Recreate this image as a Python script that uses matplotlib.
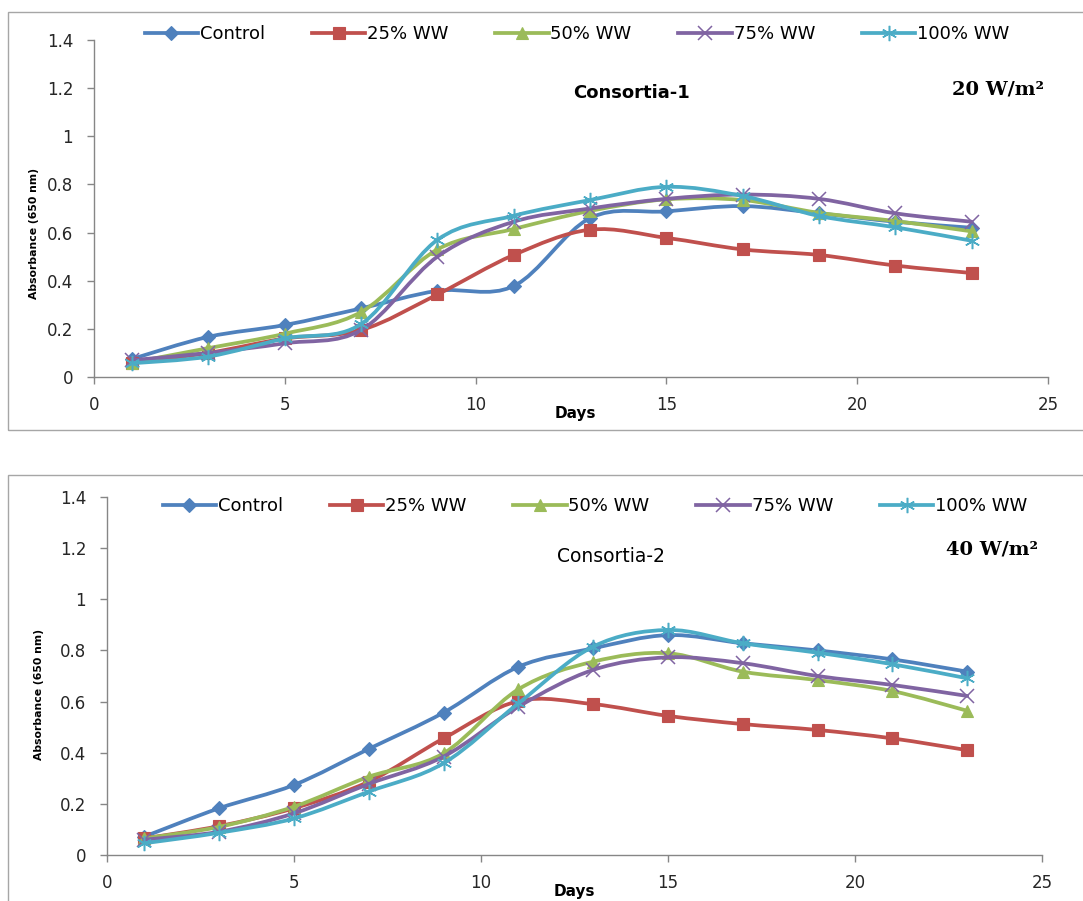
import matplotlib
matplotlib.use("Agg")
import matplotlib.pyplot as plt
import numpy as np
from matplotlib.path import Path
from matplotlib.patches import PathPatch, Rectangle
from matplotlib.lines import Line2D

days = [1, 3, 5, 7, 9, 11, 13, 15, 17, 19, 21, 23]
series_names = ["Control", "25% WW", "50% WW", "75% WW", "100% WW"]

# Consortia-1, 20 W/m2
c1_control = [0.075, 0.167, 0.216, 0.285, 0.358, 0.378, 0.660, 0.688, 0.710, 0.680, 0.645, 0.620]
c1_ww25 = [0.060, 0.100, 0.160, 0.195, 0.343, 0.507, 0.612, 0.578, 0.530, 0.507, 0.463, 0.432]
c1_ww50 = [0.060, 0.120, 0.180, 0.270, 0.530, 0.615, 0.690, 0.738, 0.735, 0.682, 0.648, 0.605]
c1_ww75 = [0.070, 0.100, 0.140, 0.195, 0.500, 0.645, 0.700, 0.740, 0.758, 0.740, 0.680, 0.645]
c1_ww100 = [0.057, 0.085, 0.160, 0.220, 0.570, 0.670, 0.735, 0.790, 0.752, 0.669, 0.622, 0.566]

# Consortia-2, 40 W/m2
c2_control = [0.072, 0.183, 0.274, 0.415, 0.557, 0.736, 0.808, 0.860, 0.828, 0.800, 0.765, 0.717]
c2_ww25 = [0.065, 0.113, 0.183, 0.287, 0.456, 0.602, 0.590, 0.544, 0.512, 0.489, 0.456, 0.410]
c2_ww50 = [0.065, 0.110, 0.189, 0.306, 0.398, 0.648, 0.756, 0.789, 0.717, 0.684, 0.641, 0.564]
c2_ww75 = [0.060, 0.091, 0.163, 0.278, 0.385, 0.580, 0.724, 0.773, 0.750, 0.700, 0.665, 0.622]
c2_ww100 = [0.046, 0.087, 0.143, 0.248, 0.359, 0.593, 0.815, 0.880, 0.828, 0.791, 0.746, 0.691]

colors = ["#4F81BD", "#C0504D", "#9BBB59", "#8064A2", "#4BACC6"]
markers = ["D", "s", "^", "x", (6, 2, 0)]
msizes = [7, 8, 9, 10, 11]

FONT = "DejaVu Sans"


def is_thin(m):
    return m == "x" or isinstance(m, tuple)


def smooth_path(x, y, tension=1.0 / 6.0):
    """Cubic Bezier path through the points (Excel style smoothed line)."""
    x = np.asarray(x, float)
    y = np.asarray(y, float)
    n = len(x)
    verts = [(x[0], y[0])]
    codes = [Path.MOVETO]
    for i in range(n - 1):
        x0, y0 = (x[i - 1], y[i - 1]) if i > 0 else (x[i], y[i])
        x3, y3 = (x[i + 2], y[i + 2]) if i + 2 < n else (x[i + 1], y[i + 1])
        c1 = (x[i] + (x[i + 1] - x0) * tension, y[i] + (y[i + 1] - y0) * tension)
        c2 = (x[i + 1] - (x3 - x[i]) * tension, y[i + 1] - (y3 - y[i]) * tension)
        verts += [c1, c2, (x[i + 1], y[i + 1])]
        codes += [Path.CURVE4] * 3
    return Path(verts, codes)


def draw_panel(ax, data):
    for k, vals in enumerate(data):
        patch = PathPatch(smooth_path(days, vals), facecolor="none",
                          edgecolor=colors[k], lw=2.7, zorder=3 + k,
                          capstyle="round", joinstyle="round")
        ax.add_patch(patch)
        ax.plot(days, vals, linestyle="none", marker=markers[k],
                markersize=msizes[k], color=colors[k],
                markeredgewidth=1.1 if is_thin(markers[k]) else 0.8,
                markeredgecolor=colors[k], zorder=3 + k)
    ax.set_xlim(0, 25)
    ax.set_ylim(0, 1.4)
    ax.set_xticks([0, 5, 10, 15, 20, 25])
    ax.set_yticks(np.arange(0, 1.41, 0.2))
    ax.set_yticklabels(["0", "0.2", "0.4", "0.6", "0.8", "1", "1.2", "1.4"])
    for s in ("top", "right"):
        ax.spines[s].set_visible(False)
    for s in ("left", "bottom"):
        ax.spines[s].set_color("#868686")
        ax.spines[s].set_linewidth(1.0)
    ax.tick_params(axis="both", direction="out", length=5, width=1,
                   color="#868686", labelsize=12, labelcolor="#262626")
    ax.tick_params(axis="x", pad=9)
    ax.tick_params(axis="y", pad=10)
    for lab in ax.get_xticklabels() + ax.get_yticklabels():
        lab.set_family(FONT)
    ax.set_xlabel("Days", fontsize=11, fontweight="bold", family=FONT)
    ax.set_ylabel("Absorbance (650 nm)", fontsize=7.8, family=FONT,
                  fontweight="bold")


def legend_handles():
    hs = []
    for k in range(5):
        hs.append(Line2D([0], [0], color=colors[k], lw=2.7, marker=markers[k],
                         markersize=msizes[k],
                         markeredgewidth=1.1 if is_thin(markers[k]) else 0.8,
                         markeredgecolor=colors[k]))
    return hs


fig = plt.figure(figsize=(10.83, 9.01), dpi=100)
W, H = 1083.0, 901.0

# chart area borders
fig.add_artist(Rectangle((8 / W, 1 - 430 / H), 1.2, (430 - 12) / H,
                         transform=fig.transFigure, fill=False,
                         edgecolor="#A6A6A6", lw=1.0))
fig.add_artist(Rectangle((8 / W, -0.1), 1.2, 0.1 + (901 - 475) / H,
                         transform=fig.transFigure, fill=False,
                         edgecolor="#A6A6A6", lw=1.0))

ax1 = fig.add_axes([94 / W, 1 - 377 / H, (1048 - 94) / W, (377 - 40) / H])
ax1.patch.set_alpha(0)
draw_panel(ax1, [c1_control, c1_ww25, c1_ww50, c1_ww75, c1_ww100])
ax1.xaxis.set_label_coords(0.505, -0.085)
ax1.yaxis.set_label_coords(-0.058, 0.427)

ax2 = fig.add_axes([107 / W, 1 - 855 / H, (1042 - 107) / W, (855 - 497) / H])
ax2.patch.set_alpha(0)
draw_panel(ax2, [c2_control, c2_ww25, c2_ww50, c2_ww75, c2_ww100])
ax2.xaxis.set_label_coords(0.5, -0.08)
ax2.yaxis.set_label_coords(-0.067, 0.447)

legend_kw = dict(ncol=5, frameon=False, handlelength=2.95, handletextpad=0.1,
                 columnspacing=2.6, prop={"family": FONT, "size": 13},
                 loc="center")
fig.legend(legend_handles(), series_names,
           bbox_to_anchor=(577 / W, 1 - 34 / H), **legend_kw)
fig.legend(legend_handles(), series_names,
           bbox_to_anchor=(595 / W, 1 - 506 / H), **legend_kw)

fig.text(632 / W, 1 - 93 / H, "Consortia-1", fontsize=13, fontweight="bold",
         family=FONT, ha="center", va="center")
fig.text(998 / W, 1 - 89 / H, "20 W/m²", fontsize=14, fontweight="bold",
         family="DejaVu Serif", ha="center", va="center")
fig.text(611 / W, 1 - 557 / H, "Consortia-2", fontsize=13.5,
         family=FONT, ha="center", va="center")
fig.text(992 / W, 1 - 549 / H, "40 W/m²", fontsize=14, fontweight="bold",
         family="DejaVu Serif", ha="center", va="center")

fig.savefig("out.png", dpi=100)
